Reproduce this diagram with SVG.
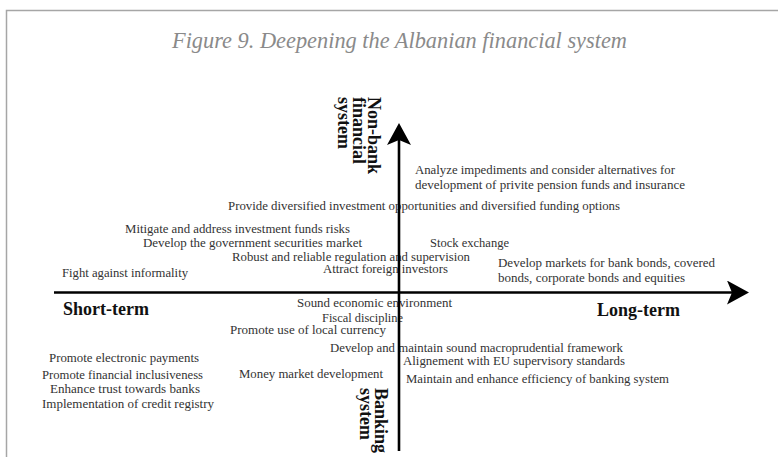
<svg xmlns="http://www.w3.org/2000/svg" width="778" height="457" viewBox="0 0 778 457">
  <style>
    .frame { fill: none; stroke: #a6a6a6; stroke-width: 1.5; }
    .title { font-family: "Liberation Serif", "DejaVu Serif", serif; font-style: italic; font-size: 23px; fill: #8a8a8a; }
    .item { font-family: "Liberation Serif", "DejaVu Serif", serif; font-size: 12.8px; fill: #333333; }
    .axis-label { font-family: "Liberation Serif", "DejaVu Serif", serif; font-weight: bold; font-size: 18px; fill: #111111; }
    .axis { stroke: #000000; stroke-width: 2.6; fill: none; marker-end: url(#head); }
  </style>
  <defs>
    <marker id="head" markerUnits="userSpaceOnUse" viewBox="0 -12 22 24" refX="5" refY="0" markerWidth="22" markerHeight="24" orient="auto">
      <path d="M0,-12 L22,0 L0,12 L5,0 Z" fill="#000000"/>
    </marker>
  </defs>

  <!-- outer frame -->
  <rect class="frame" x="6.5" y="10.5" width="800" height="500"/>

  <text class="title" x="172" y="48" textLength="455" lengthAdjust="spacingAndGlyphs">Figure 9. Deepening the Albanian financial system</text>

  <!-- upper half: non-bank measures -->
  <g id="n-analyze">
    <text class="item" x="415" y="174" textLength="260" lengthAdjust="spacingAndGlyphs">Analyze impediments and consider alternatives for</text>
    <text class="item" x="415" y="189" textLength="270" lengthAdjust="spacingAndGlyphs">development of privite pension funds and insurance</text>
  </g>
  <g id="n-provide"><text class="item" x="228" y="210" textLength="392" lengthAdjust="spacingAndGlyphs">Provide diversified investment opportunities and diversified funding options</text></g>
  <g id="n-mitigate"><text class="item" x="125" y="233" textLength="225" lengthAdjust="spacingAndGlyphs">Mitigate and address investment funds risks</text></g>
  <g id="n-govsec"><text class="item" x="143" y="247" textLength="219" lengthAdjust="spacingAndGlyphs">Develop the government securities market</text></g>
  <g id="n-stock"><text class="item" x="430" y="247" textLength="79" lengthAdjust="spacingAndGlyphs">Stock exchange</text></g>
  <g id="n-robust"><text class="item" x="232" y="261" textLength="238" lengthAdjust="spacingAndGlyphs">Robust and reliable regulation and supervision</text></g>
  <g id="n-bonds">
    <text class="item" x="498" y="267" textLength="217" lengthAdjust="spacingAndGlyphs">Develop markets for bank bonds, covered</text>
    <text class="item" x="498" y="282" textLength="187" lengthAdjust="spacingAndGlyphs">bonds, corporate bonds and equities</text>
  </g>
  <g id="n-foreign"><text class="item" x="323" y="273" textLength="125" lengthAdjust="spacingAndGlyphs">Attract foreign investors</text></g>
  <g id="n-informality"><text class="item" x="62" y="277" textLength="126" lengthAdjust="spacingAndGlyphs">Fight against informality</text></g>

  <!-- lower half: banking measures -->
  <g id="n-sound"><text class="item" x="297" y="307" textLength="155" lengthAdjust="spacingAndGlyphs">Sound economic environment</text></g>
  <g id="n-fiscal"><text class="item" x="322" y="322" textLength="81" lengthAdjust="spacingAndGlyphs">Fiscal discipline</text></g>
  <g id="n-currency"><text class="item" x="230" y="334" textLength="156" lengthAdjust="spacingAndGlyphs">Promote use of local currency</text></g>
  <g id="n-macropru"><text class="item" x="330" y="352" textLength="293" lengthAdjust="spacingAndGlyphs">Develop and maintain sound macroprudential framework</text></g>
  <g id="n-epay"><text class="item" x="49" y="362" textLength="150" lengthAdjust="spacingAndGlyphs">Promote electronic payments</text></g>
  <g id="n-eu"><text class="item" x="403" y="365" textLength="222" lengthAdjust="spacingAndGlyphs">Alignement with EU supervisory standards</text></g>
  <g id="n-money"><text class="item" x="239" y="378" textLength="144" lengthAdjust="spacingAndGlyphs">Money market development</text></g>
  <g id="n-inclusive"><text class="item" x="42" y="379" textLength="161" lengthAdjust="spacingAndGlyphs">Promote financial inclusiveness</text></g>
  <g id="n-efficiency"><text class="item" x="406" y="383" textLength="263" lengthAdjust="spacingAndGlyphs">Maintain and enhance efficiency of banking system</text></g>
  <g id="n-trust"><text class="item" x="50" y="393" textLength="150" lengthAdjust="spacingAndGlyphs">Enhance trust towards banks</text></g>
  <g id="n-registry"><text class="item" x="42" y="408" textLength="172" lengthAdjust="spacingAndGlyphs">Implementation of credit registry</text></g>

  <!-- axes -->
  <g id="connectors">
    <line class="axis" x1="54" y1="292.5" x2="732" y2="292.5"/>
    <line class="axis" x1="399" y1="451" x2="399" y2="140"/>
  </g>

  <!-- axis labels -->
  <g id="label-short"><text class="axis-label" x="63" y="315">Short-term</text></g>
  <g id="label-long"><text class="axis-label" x="597" y="316">Long-term</text></g>
  <g id="label-nonbank" transform="translate(368,97) rotate(90)">
    <text class="axis-label" x="0" y="0">Non-bank</text>
    <text class="axis-label" x="0" y="15">financial</text>
    <text class="axis-label" x="0" y="30">system</text>
  </g>
  <g id="label-banking" transform="translate(375,388) rotate(90)">
    <text class="axis-label" x="0" y="0">Banking</text>
    <text class="axis-label" x="0" y="15">system</text>
  </g>
</svg>
